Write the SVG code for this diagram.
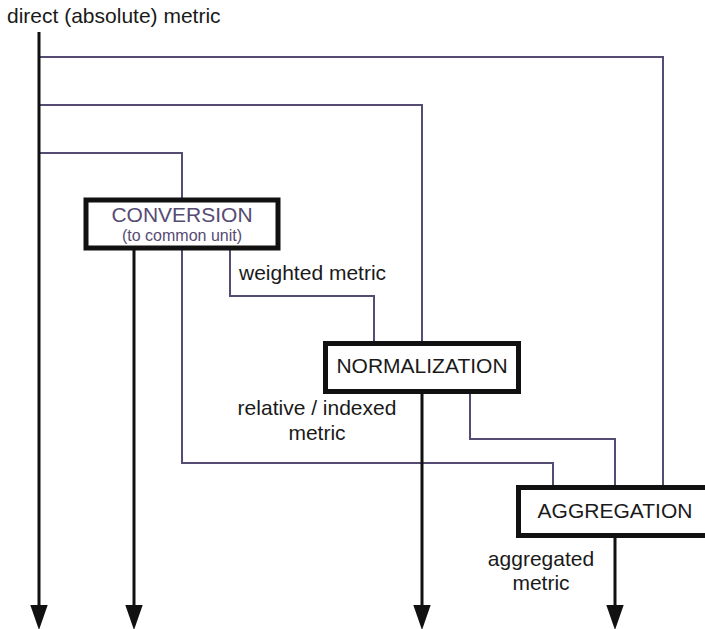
<svg xmlns="http://www.w3.org/2000/svg" width="705" height="629" viewBox="0 0 705 629">
  <defs>
    <style>
      .lbl { font-family: "Liberation Sans", Arial, sans-serif; font-size: 21px; fill: #1a1a1a; }
      .flow { fill: none; stroke: #564b73; stroke-width: 2; }
      .out { fill: none; stroke: #111111; stroke-width: 3; }
      .box { fill: #ffffff; stroke: #111111; stroke-width: 5; }
      .head { fill: #111111; }
    </style>
  </defs>
  <rect width="705" height="629" fill="#ffffff"/>

  <text class="lbl" x="7" y="23">direct (absolute) metric</text>

  <g id="connectors">
    <!-- feeds from the direct metric line into each stage -->
    <polyline class="flow" points="39,57 663,57 663,487"/>
    <polyline class="flow" points="39,105 422,105 422,343"/>
    <polyline class="flow" points="39,153 182,153 182,200"/>
    <!-- conversion outputs -->
    <polyline class="flow" points="230,248 230,296 374,296 374,343"/>
    <polyline class="flow" points="182,248 182,463 553,463 553,487"/>
    <!-- normalization output into aggregation -->
    <polyline class="flow" points="470,392 470,439 615,439 615,487"/>
    <!-- metric outputs (downward arrows) -->
    <line class="out" x1="39" y1="32" x2="39" y2="608"/>
    <line class="out" x1="134" y1="248" x2="134" y2="608"/>
    <line class="out" x1="422" y1="392" x2="422" y2="608"/>
    <line class="out" x1="615" y1="536" x2="615" y2="608"/>
    <polygon class="head" points="30.3,605 47.7,605 39,630"/>
    <polygon class="head" points="125.3,605 142.7,605 134,630"/>
    <polygon class="head" points="413.3,605 430.7,605 422,630"/>
    <polygon class="head" points="606.3,605 623.7,605 615,630"/>
  </g>

  <g id="conversion">
    <rect class="box" x="86" y="200" width="192" height="48"/>
    <text x="182" y="222" text-anchor="middle" font-family="Liberation Sans, Arial, sans-serif" font-size="21" fill="#564b73">CONVERSION</text>
    <text x="182" y="241" text-anchor="middle" font-family="Liberation Sans, Arial, sans-serif" font-size="16" fill="#564b73">(to common unit)</text>
  </g>

  <text class="lbl" x="239" y="280">weighted metric</text>

  <g id="normalization">
    <rect class="box" x="325.5" y="343.5" width="193" height="48"/>
    <text class="lbl" x="422" y="373" text-anchor="middle">NORMALIZATION</text>
  </g>

  <text class="lbl" x="317" y="415" text-anchor="middle">relative / indexed</text>
  <text class="lbl" x="317" y="440" text-anchor="middle">metric</text>

  <g id="aggregation">
    <rect class="box" x="518.5" y="487.5" width="192" height="48"/>
    <text class="lbl" x="615" y="518" text-anchor="middle">AGGREGATION</text>
  </g>

  <text class="lbl" x="541" y="566" text-anchor="middle">aggregated</text>
  <text class="lbl" x="541" y="590" text-anchor="middle">metric</text>
</svg>
